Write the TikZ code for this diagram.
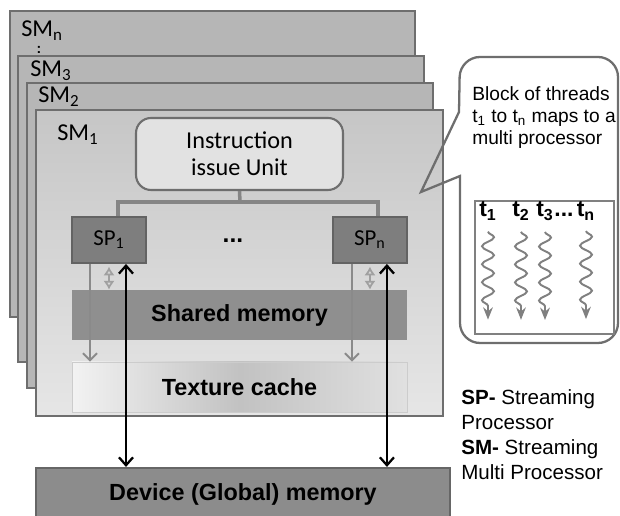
\documentclass[tikz,border=0pt]{standalone}
\usepackage{fontspec}
\setmainfont{Liberation Sans}
\newfontfamily\calibrish{Carlito}
\usetikzlibrary{arrows.meta,decorations.pathmorphing,positioning}

\definecolor{frameline}{HTML}{6E6E6E}
\definecolor{smfill}{HTML}{B6B6B6}
\definecolor{smtop}{HTML}{C6C6C6}
\definecolor{smbot}{HTML}{E6E6E6}
\definecolor{issuefill}{HTML}{E2E2E2}
\definecolor{spfill}{HTML}{7E7E7E}
\definecolor{spline}{HTML}{636363}
\definecolor{sharedfill}{HTML}{8F8F8F}
\definecolor{devicefill}{HTML}{8C8C8C}
\definecolor{busgray}{HTML}{858585}
\definecolor{feedgray}{HTML}{8A8A8A}
\definecolor{linkgray}{HTML}{A0A0A0}
\definecolor{threadgray}{HTML}{808080}

\begin{document}
\begin{tikzpicture}[x=0.02cm,y=-0.02cm,node distance=5.22cm,
    sm frame/.style={draw=frameline,line width=1.4pt,fill=smfill},
    sm label/.style={anchor=base west,inner sep=0pt,font=\calibrish\fontsize{13.8}{16}\selectfont},
    issue node/.style={draw=frameline,line width=1.2pt,fill=issuefill,rounded corners=0.3cm,
      minimum width=4.14cm,minimum height=1.44cm,align=center,
      font=\calibrish\fontsize{13.8}{15.3}\selectfont},
    sp node/.style={draw=spline,line width=1.1pt,fill=spfill,minimum width=1.48cm,
      minimum height=0.92cm,font=\calibrish\fontsize{13}{15}\selectfont},
    mem node/.style={minimum width=6.7cm,minimum height=1cm,font=\bfseries\fontsize{13.3}{16}\selectfont},
    bus/.style={draw=busgray,line width=2pt},
    feed/.style={draw=feedgray,line width=1.1pt,-{Straight Barb[length=4pt,width=8pt]}},
    shared link/.style={draw=linkgray,line width=1pt,
      {Latex[open,length=5pt,width=6.5pt]}-{Latex[open,length=5pt,width=6.5pt]}},
    global link/.style={draw=black,line width=1.3pt,
      {Straight Barb[length=4.5pt,width=8pt]}-{Straight Barb[length=4.5pt,width=8pt]}},
    thread/.style={draw=threadgray,line width=1.1pt,decorate,
      decoration={snake,amplitude=0.12cm,segment length=0.36cm,post length=7pt},
      -{Stealth[length=7pt,width=5.5pt]}},
    thread label/.style={anchor=base,inner sep=0pt,font=\bfseries\fontsize{13}{15}\selectfont},
    callout/.style={draw=frameline,line width=1.3pt}]

  \useasboundingbox (0,0) rectangle (620,516);

  % stacked multiprocessors
  \draw[sm frame] (10,11) rectangle (415,317);
  \draw[sm frame] (18,56) rectangle (424,362);
  \draw[sm frame] (27,83) rectangle (433,388);
  \draw[sm frame,top color=smtop,bottom color=smbot] (36,110) rectangle (443,416);

  \node[sm label] (smn) at (21,37) {SM\textsubscript{n}};
  \node[font=\bfseries\fontsize{8}{8}\selectfont,inner sep=0pt] (smdots) at (39,50) {:};
  \node[sm label] (sm3) at (30,77) {SM\textsubscript{3}};
  \node[sm label] (sm2) at (38,103) {SM\textsubscript{2}};
  \node[sm label] (sm1) at (57,141) {SM\textsubscript{1}};

  % inside SM1
  \node[issue node] (issue) at (239.5,154) {Instruction\\issue Unit};
  \node[sp node] (sp1) at (109,240) {SP\textsubscript{1}};
  \node[sp node] (spn) [right of=sp1] {SP\textsubscript{n}};
  \node[anchor=base,inner sep=0pt,font=\bfseries\fontsize{14}{14}\selectfont] (spdots) at (233,243) {...};
  \node[mem node,fill=sharedfill] (shared) at (239.5,315) {Shared memory};
  \node[mem node,draw=black!20,left color=white!95!black,right color=black!12,
        middle color=black!24] (texture) at (239.5,387) {Texture cache};
  \node[mem node,draw=black!60,line width=1.2pt,fill=devicefill,minimum width=8.28cm,
        minimum height=1.04cm] (device) at (243,494) {Device (Global) memory};

  \coordinate (busmid) at (240,202);
  \draw[bus] (issue.south) -- (busmid);
  \draw[bus] ([xshift=0.18cm]sp1.north) |- (busmid) -| ([xshift=0.16cm]spn.north);

  \draw[feed] ([xshift=-0.38cm]sp1.south) -- ([xshift=-0.38cm]sp1.south |- texture.north);
  \draw[feed] ([xshift=-0.36cm]spn.south) -- ([xshift=-0.36cm]spn.south |- texture.north);
  \draw[shared link] ([yshift=-1.5pt]sp1.south) -- (sp1.south |- shared.north);
  \draw[shared link] ([yshift=-1.5pt]spn.south) -- (spn.south |- shared.north);
  \draw[global link] ([xshift=0.34cm]sp1.south) -- ([xshift=0.34cm]sp1.south |- device.north);
  \draw[global link] ([xshift=0.34cm]spn.south) -- ([xshift=0.34cm]spn.south |- device.north);

  % callout with the threads
  \draw[callout] (421,192) -- (459,112) [rounded corners=0.4cm] -- (460,57) -- (618,57)
    -- (618,343) -- (460,343) [sharp corners] -- (460,176) -- cycle;
  \node[anchor=north west,align=left,inner sep=0pt,font=\fontsize{10.9}{12.6}\selectfont]
    (blocktxt) at (472,86) {Block of threads\\t\textsubscript{1} to t\textsubscript{n} maps to a\\multi processor};
  \node[draw=threadgray,line width=1.4pt,fill=white,minimum width=2.78cm,minimum height=2.66cm]
    (tbox) at (544.5,267.5) {};

  \node[thread label] (t1) at (488,217) {t\textsubscript{1}};
  \node[thread label] (t2) at (521,217) {t\textsubscript{2}};
  \node[thread label] (t3) at (545,217) {t\textsubscript{3}};
  \node[thread label] (tdots) at (564,217) {...};
  \node[thread label] (tn) at (586,217) {t\textsubscript{n}};
  \foreach \t in {t1,t2,t3,tn}
    \draw[thread] ([yshift=-6pt]\t.south) -- ++(0,88);

  % legend
  \node[anchor=north west,align=left,inner sep=0pt,font=\fontsize{11.7}{14.2}\selectfont]
    (legend) at (461,389) {\textbf{SP-} Streaming\\Processor\\\textbf{SM-} Streaming\\Multi Processor};
\end{tikzpicture}
\end{document}
